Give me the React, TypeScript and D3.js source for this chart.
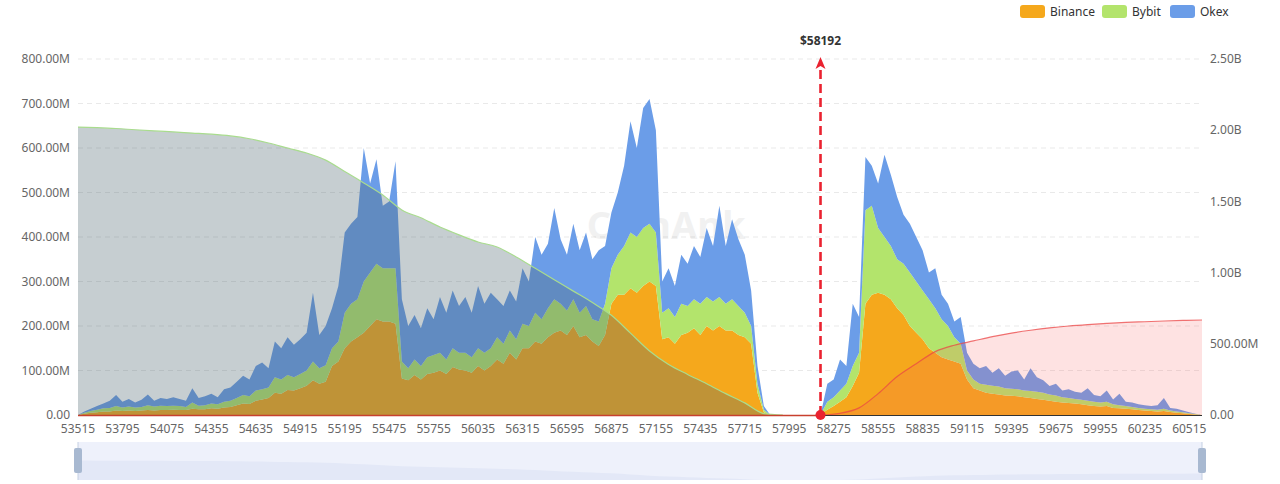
import React, { useEffect, useRef } from 'react';
import * as d3 from 'd3';

// Liquidation map: stacked liquidation intensity per exchange (left axis)
// with cumulative long / short liquidation curves (right axis).

const W = 1280;
const H = 484;
const LEFT = 78;
const RIGHT = 1202;
const TOP = 59;
const BOTTOM = 415;

const PRICE_START = 53515;
const PRICE_END = 60595;
const BIN_STEP = 40;
const CUM_STEP = 120;
const CURRENT_PRICE = 58192;

const tickPrices = [
  53515, 53795, 54075, 54355, 54635, 54915, 55195, 55475, 55755, 56035, 56315, 56595, 56875,
  57155, 57435, 57715, 57995, 58275, 58555, 58835, 59115, 59395, 59675, 59955, 60235, 60515,
];
const leftTicks = [0, 100e6, 200e6, 300e6, 400e6, 500e6, 600e6, 700e6, 800e6];
const rightTicks = [0, 0.5e9, 1e9, 1.5e9, 2e9, 2.5e9];

const exchanges = ['Binance', 'Bybit', 'Okex'];
const exchangeColors = ['#f5a81c', '#b3e46c', '#6b9de8'];

// liquidation intensity per 40-price bin, millions USD
const binance = [
  0, 3, 5, 6, 8, 8, 10, 9, 10, 9,
  10, 11, 10, 11, 11, 12, 11, 11, 14, 13,
  13, 15, 14, 17, 18, 22, 26, 25, 32, 35,
  38, 50, 48, 56, 55, 60, 66, 78, 70, 75,
  110, 120, 150, 165, 175, 185, 200, 215, 210, 210,
  205, 82, 78, 90, 80, 92, 95, 100, 92, 108,
  102, 100, 95, 110, 100, 110, 125, 115, 140, 125,
  150, 150, 165, 160, 175, 185, 190, 180, 200, 175,
  180, 165, 155, 180, 250, 270, 270, 285, 275, 290,
  300, 290, 170, 175, 160, 180, 185, 195, 180, 200,
  190, 200, 190, 190, 180, 175, 160, 50, 6, 0,
  0, 0, 0, 0, 0, 0, 0, 2, 12, 20,
  30, 40, 65, 95, 250, 270, 275, 270, 260, 240,
  225, 200, 185, 170, 150, 140, 130, 125, 120, 115,
  80, 60, 55, 50, 48, 46, 44, 43, 42, 40,
  38, 36, 34, 32, 30, 28, 27, 26, 24, 22,
  20, 19, 20, 16, 15, 14, 13, 11, 10, 9,
  8, 9, 7, 5, 4, 2, 1, 0,
];
const bybit = [
  0, 2, 4, 6, 7, 8, 10, 8, 9, 8,
  8, 11, 9, 10, 9, 9, 9, 7, 14, 8,
  9, 11, 10, 13, 14, 16, 19, 17, 23, 23,
  24, 35, 32, 34, 30, 32, 34, 42, 35, 37,
  40, 45, 80, 85, 85, 115, 120, 125, 120, 120,
  125, 38, 27, 35, 30, 38, 40, 40, 33, 42,
  38, 40, 35, 40, 40, 40, 50, 45, 50, 45,
  55, 50, 65, 55, 65, 75, 60, 55, 60, 55,
  65, 50, 55, 70, 80, 90, 110, 125, 125, 130,
  130, 120, 60, 65, 60, 70, 60, 65, 70, 65,
  65, 65, 60, 70, 65, 55, 40, 20, 6, 0,
  0, 0, 0, 0, 0, 0, 0, 1, 18, 20,
  25, 30, 45, 45, 210, 200, 145, 130, 120, 110,
  115, 120, 115, 110, 110, 100, 85, 75, 55, 45,
  20, 20, 15, 18, 18, 18, 16, 16, 16, 15,
  16, 16, 16, 14, 14, 12, 11, 10, 10, 10,
  10, 9, 10, 8, 7, 6, 5, 5, 4, 4,
  4, 5, 3, 3, 2, 2, 1, 0,
];
const okex = [
  0, 3, 5, 8, 11, 16, 25, 13, 17, 11,
  16, 24, 13, 17, 16, 19, 16, 14, 32, 17,
  20, 22, 16, 28, 30, 37, 43, 38, 55, 60,
  43, 80, 70, 85, 73, 78, 85, 155, 75, 88,
  90, 125, 180, 180, 185, 300, 200, 235, 140, 150,
  240, 140, 95, 100, 85, 110, 80, 125, 105, 130,
  105, 125, 100, 140, 110, 125, 85, 85, 90, 85,
  125, 100, 170, 145, 145, 205, 145, 125, 170, 140,
  165, 135, 160, 130, 125, 140, 180, 250, 200, 270,
  280, 230, 70, 90, 70, 110, 95, 120, 105, 155,
  125, 205, 130, 180, 150, 130, 80, 40, 8, 0,
  0, 0, 0, 0, 0, 0, 0, 2, 40, 40,
  70, 40, 140, 80, 120, 90, 100, 185, 160, 140,
  110, 110, 100, 90, 60, 90, 55, 50, 35, 60,
  40, 35, 35, 42, 29, 41, 28, 39, 42, 25,
  51, 33, 28, 19, 26, 15, 20, 16, 16, 28,
  15, 14, 25, 11, 26, 10, 10, 8, 8, 7,
  10, 24, 6, 6, 4, 2, 1, 0,
];

// cumulative liquidation, billions USD, on a 120-price grid
const longCumulative = [
  2.022, 2.018, 2.012, 2.003, 1.995, 1.988, 1.98, 1.972, 1.96, 1.94,
  1.91, 1.875, 1.84, 1.79, 1.71, 1.63, 1.545, 1.44, 1.385, 1.32,
  1.265, 1.215, 1.18, 1.11, 1.03, 0.95, 0.87, 0.79, 0.7, 0.575,
  0.45, 0.355, 0.285, 0.22, 0.15, 0.085, 0.01, 0,
];
const shortCumulativeStart = 39; // grid index of the first short point
const shortCumulative = [
  0, 0.012, 0.05, 0.15, 0.27, 0.36, 0.445, 0.49, 0.52, 0.55,
  0.575, 0.595, 0.612, 0.625, 0.635, 0.643, 0.65, 0.655, 0.66, 0.664,
  0.667,
];

const fmtLeft = (v: number) => (v === 0 ? '0.00' : `${(v / 1e6).toFixed(2)}M`);
const fmtRight = (v: number) =>
  v === 0 ? '0.00' : v >= 1e9 ? `${(v / 1e9).toFixed(2)}B` : `${(v / 1e6).toFixed(2)}M`;

const FONT = '"Noto Sans", "Open Sans", sans-serif';

export default function App() {
  const svgRef = useRef<SVGSVGElement>(null);

  useEffect(() => {
    const svg = d3.select(svgRef.current).attr('width', W).attr('height', H);
    svg.selectAll('*').remove();
    svg.append('rect').attr('width', W).attr('height', H).attr('fill', '#fff');

    const x = d3.scaleLinear().domain([PRICE_START, PRICE_END]).range([LEFT, RIGHT]);
    const yL = d3.scaleLinear().domain([0, 800e6]).range([BOTTOM, TOP]);
    const yR = d3.scaleLinear().domain([0, 2.5e9]).range([BOTTOM, TOP]);

    // grid
    svg
      .append('g')
      .selectAll('line')
      .data(leftTicks.slice(1))
      .enter()
      .append('line')
      .attr('x1', LEFT)
      .attr('x2', RIGHT)
      .attr('y1', (d) => yL(d))
      .attr('y2', (d) => yL(d))
      .attr('stroke', '#e9e9e9')
      .attr('stroke-dasharray', '5,4');

    // watermark
    svg
      .append('text')
      .attr('x', x(56720))
      .attr('y', yL(395e6))
      .attr('font-family', FONT)
      .attr('font-size', 38)
      .attr('font-weight', 700)
      .attr('fill', '#000')
      .attr('opacity', 0.05)
      .text('CoinAnk');

    // stacked liquidation areas
    const rows = binance.map((_, i) => ({
      price: PRICE_START + i * BIN_STEP,
      Binance: binance[i] * 1e6,
      Bybit: bybit[i] * 1e6,
      Okex: okex[i] * 1e6,
    }));
    const stacked = d3.stack<any>().keys(exchanges)(rows);
    const area = d3
      .area<any>()
      .x((d) => x(d.data.price))
      .y0((d) => yL(d[0]))
      .y1((d) => yL(d[1]))
      .curve(d3.curveLinear);
    svg
      .append('g')
      .selectAll('path')
      .data(stacked)
      .enter()
      .append('path')
      .attr('fill', (_, i) => exchangeColors[i])
      .attr('d', area as any);

    // cumulative long (left of price)
    const longPts = longCumulative.map((v, i) => ({ price: PRICE_START + i * CUM_STEP, v: v * 1e9 }));
    const cumArea = d3
      .area<any>()
      .x((d) => x(d.price))
      .y0(BOTTOM)
      .y1((d) => yR(d.v))
      .curve(d3.curveMonotoneX);
    const cumLine = d3
      .line<any>()
      .x((d) => x(d.price))
      .y((d) => yR(d.v))
      .curve(d3.curveMonotoneX);
    svg.append('path').datum(longPts).attr('fill', 'rgba(78,104,112,0.32)').attr('d', cumArea);
    svg
      .append('path')
      .datum(longPts)
      .attr('fill', 'none')
      .attr('stroke', '#a9dc8e')
      .attr('stroke-width', 1.2)
      .attr('d', cumLine);

    // cumulative short (right of price)
    const shortPts = shortCumulative.map((v, i) => ({
      price: i === 0 ? CURRENT_PRICE : PRICE_START + (shortCumulativeStart + i) * CUM_STEP,
      v: v * 1e9,
    }));
    svg.append('path').datum(shortPts).attr('fill', 'rgba(250,95,95,0.18)').attr('d', cumArea);
    svg
      .append('path')
      .datum(shortPts)
      .attr('fill', 'none')
      .attr('stroke', 'rgba(235,70,70,0.75)')
      .attr('stroke-width', 1.2)
      .attr('d', cumLine);

    // baseline
    svg
      .append('line')
      .attr('x1', LEFT)
      .attr('x2', RIGHT)
      .attr('y1', BOTTOM + 0.5)
      .attr('y2', BOTTOM + 0.5)
      .attr('stroke', '#333')
      .attr('stroke-width', 1.2);
    svg
      .append('line')
      .attr('x1', LEFT)
      .attr('x2', x(CURRENT_PRICE))
      .attr('y1', BOTTOM + 0.5)
      .attr('y2', BOTTOM + 0.5)
      .attr('stroke', '#c8402e')
      .attr('stroke-width', 1.6);

    // current price marker
    const mx = x(CURRENT_PRICE);
    svg
      .append('line')
      .attr('x1', mx)
      .attr('x2', mx)
      .attr('y1', BOTTOM)
      .attr('y2', TOP + 8)
      .attr('stroke', '#ea2230')
      .attr('stroke-width', 2.6)
      .attr('stroke-dasharray', '9,5');
    svg
      .append('path')
      .attr('d', `M${mx},${TOP - 2} L${mx + 5},${TOP + 10} L${mx},${TOP + 7} L${mx - 5},${TOP + 10} Z`)
      .attr('fill', '#ea2230');
    svg.append('circle').attr('cx', mx).attr('cy', BOTTOM).attr('r', 5).attr('fill', '#ea2230');
    svg
      .append('text')
      .attr('x', mx)
      .attr('y', TOP - 14)
      .attr('text-anchor', 'middle')
      .attr('font-family', FONT)
      .attr('font-size', 12)
      .attr('font-weight', 700)
      .attr('fill', '#333')
      .text(`$${CURRENT_PRICE}`);

    // axes labels
    svg
      .append('g')
      .selectAll('text')
      .data(leftTicks)
      .enter()
      .append('text')
      .attr('x', LEFT - 8)
      .attr('y', (d) => yL(d))
      .attr('dy', '0.35em')
      .attr('text-anchor', 'end')
      .attr('font-family', FONT)
      .attr('font-size', 12)
      .attr('fill', '#666')
      .text(fmtLeft);
    svg
      .append('g')
      .selectAll('text')
      .data(rightTicks)
      .enter()
      .append('text')
      .attr('x', RIGHT + 8)
      .attr('y', (d) => yR(d))
      .attr('dy', '0.35em')
      .attr('text-anchor', 'start')
      .attr('font-family', FONT)
      .attr('font-size', 12)
      .attr('fill', '#666')
      .text(fmtRight);
    svg
      .append('g')
      .selectAll('text')
      .data(tickPrices)
      .enter()
      .append('text')
      .attr('x', (d) => x(d))
      .attr('y', BOTTOM + 14)
      .attr('dy', '0.35em')
      .attr('text-anchor', 'middle')
      .attr('font-family', FONT)
      .attr('font-size', 12)
      .attr('fill', '#666')
      .text((d) => String(d));

    // legend
    const legendX = [1020, 1102, 1170];
    const lg = svg
      .append('g')
      .selectAll('g')
      .data(exchanges)
      .enter()
      .append('g')
      .attr('transform', (_, i) => `translate(${legendX[i]},5)`);
    lg.append('rect')
      .attr('width', 25)
      .attr('height', 13)
      .attr('rx', 3)
      .attr('fill', (_, i) => exchangeColors[i]);
    lg.append('text')
      .attr('x', 30)
      .attr('y', 6.5)
      .attr('dy', '0.35em')
      .attr('font-family', FONT)
      .attr('font-size', 12)
      .attr('fill', '#333')
      .text((d) => d);

    // data zoom slider
    const sTop = 442;
    const sBot = 480;
    svg
      .append('rect')
      .attr('x', LEFT)
      .attr('y', sTop)
      .attr('width', RIGHT - LEFT)
      .attr('height', sBot - sTop)
      .attr('fill', '#eef1fb');
    const ys = d3.scaleLinear().domain([0, 2.5e9]).range([sBot, sTop + 14]);
    const shadow = d3
      .area<any>()
      .x((d) => x(d.price))
      .y0(sBot)
      .y1((d) => ys(d.v))
      .curve(d3.curveMonotoneX);
    svg.append('path').datum(longPts).attr('fill', '#e3e8f7').attr('d', shadow);
    svg.append('path').datum(shortPts).attr('fill', '#e3e8f7').attr('d', shadow);
    [LEFT, RIGHT].forEach((hx) => {
      svg
        .append('line')
        .attr('x1', hx)
        .attr('x2', hx)
        .attr('y1', sTop)
        .attr('y2', sBot)
        .attr('stroke', '#c5d0e3');
      svg
        .append('rect')
        .attr('x', hx - 4)
        .attr('y', 448)
        .attr('width', 8)
        .attr('height', 25)
        .attr('rx', 2)
        .attr('fill', '#a8b9d1');
    });
  }, []);

  return (
    <div style={{ position: 'absolute', left: 0, top: 0 }}>
      <svg ref={svgRef} style={{ display: 'block' }} />
    </div>
  );
}
